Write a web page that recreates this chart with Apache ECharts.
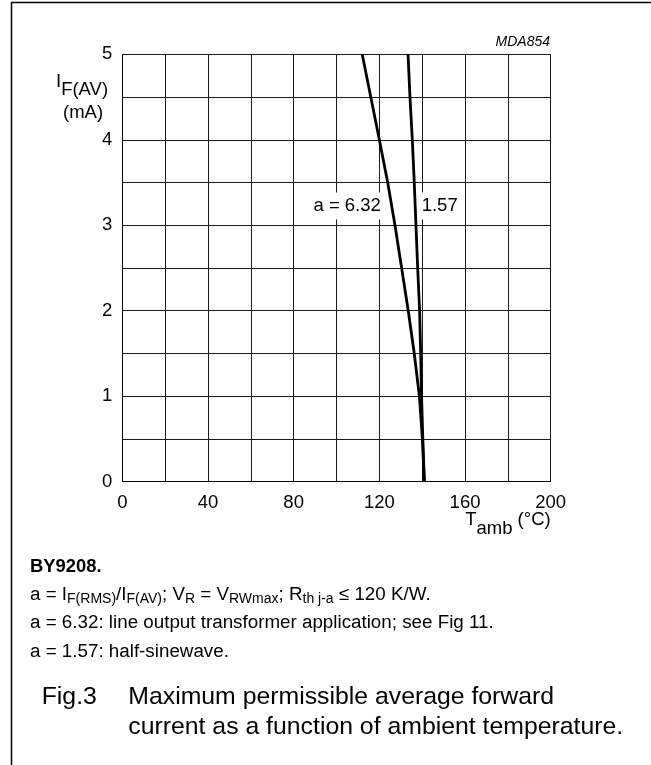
<!DOCTYPE html>
<html><head><meta charset="utf-8">
<script src="https://cdn.jsdelivr.net/npm/echarts/dist/echarts.min.js"></script>
<style>html,body{margin:0;padding:0;background:#fff}#c{width:651px;height:765px}</style>
</head><body><div id="c"></div>
<script>
// ---- data ----
const currentLevels = [0, 0.5, 1, 1.5, 2, 2.5, 3, 3.5, 4, 4.5, 5];          // I_F(AV) (mA)
const tempA632 = [141, 140.1, 138.7, 136.3, 133.5, 130.4, 127.3, 123.9, 120, 116, 112];   // a = 6.32
const tempA157 = [141, 140.3, 139.7, 139.3, 138.8, 137.9, 137.1, 136.3, 135.4, 134.3, 133.4]; // a = 1.57
const xTickLabels = [0, 40, 80, 120, 160, 200];
const yTickLabels = [0, 1, 2, 3, 4, 5];
const curveNames = ['a = 6.32', '1.57'];

const FONT = "'Liberation Sans', Arial, Helvetica, sans-serif";
const chart = echarts.init(document.getElementById('c'), null, {renderer: 'canvas'});

function pairs(temps) { return currentLevels.map((c, i) => [temps[i], c]); }

chart.setOption({
  animation: false,
  backgroundColor: '#fff',
  grid: {left: 122.3, right: 100.3, top: 54.3, bottom: 283.3},
  xAxis: {
    type: 'value', min: 0, max: 200, interval: 20,
    axisLine: {show: true, lineStyle: {color: '#000', width: 1}},
    axisTick: {show: false},
    axisLabel: {
      formatter: v => xTickLabels.indexOf(v) >= 0 ? String(v) : '',
      fontSize: 18.5, fontFamily: FONT, color: '#000', margin: 12
    },
    splitLine: {show: true, lineStyle: {color: '#1a1a1a', width: 1}}
  },
  yAxis: {
    type: 'value', min: 0, max: 5, interval: 0.5,
    axisLine: {show: true, lineStyle: {color: '#000', width: 1}},
    axisTick: {show: false},
    axisLabel: {
      formatter: v => yTickLabels.indexOf(v) >= 0 ? String(v) : '',
      fontSize: 18.5, fontFamily: FONT, color: '#000', margin: 10
    },
    splitLine: {show: true, lineStyle: {color: '#1a1a1a', width: 1}}
  },
  series: [
    {type: 'line', name: curveNames[0], data: pairs(tempA632), symbol: 'none', silent: true,
     lineStyle: {color: '#000', width: 2.8}},
    {type: 'line', name: curveNames[1], data: pairs(tempA157), symbol: 'none', silent: true,
     lineStyle: {color: '#000', width: 2.8}}
  ]
});

function text(x, y, str, size, extra) {
  return {type: 'text', x: x, y: y, z: 5, silent: true,
    style: Object.assign({text: str, fontSize: size, fontFamily: FONT, fill: '#000',
      align: 'left', textAlign: 'left', verticalAlign: 'middle', textVerticalAlign: 'middle'}, extra || {})};
}
function richText(x, y, str, mainSize, subSize, drop, extra) {
  return text(x, y, str, mainSize, Object.assign({
    rich: {
      m: {fontSize: mainSize, fontFamily: FONT, fill: '#000', verticalAlign: 'top'},
      s: {fontSize: subSize, fontFamily: FONT, fill: '#000', verticalAlign: 'bottom', padding: [drop, 0, 0, 0]}
    }
  }, extra || {}));
}

// curve label anchors in data units (T, I)
const p632 = chart.convertToPixel({gridIndex: 0}, [122.1, 3.225]);
const p157 = chart.convertToPixel({gridIndex: 0}, [139.3, 3.225]);

const graphics = [
  {type: 'polyline', silent: true, z: 5, shape: {points: [[11.5, 765], [11.5, 2.5], [651, 2.5]]},
   style: {stroke: '#000', lineWidth: 1.5, fill: null}},
  // curve labels with white boxes
  {type: 'text', x: p632[0], y: p632[1], z: 1, silent: true,
   style: {text: curveNames[0], fontSize: 18.5, fontFamily: FONT, fill: '#000', align: 'right', textAlign: 'right',
     verticalAlign: 'middle', textVerticalAlign: 'middle', backgroundColor: '#fff', padding: [5, 3, 3, 18]}},
  {type: 'text', x: p157[0], y: p157[1], z: 1, silent: true,
   style: {text: curveNames[1], fontSize: 18.5, fontFamily: FONT, fill: '#000', align: 'left', textAlign: 'left',
     verticalAlign: 'middle', textVerticalAlign: 'middle', backgroundColor: '#fff', padding: [5, 3, 3, 1]}},
  // code
  text(550, 41.7, 'MDA854', 14, {align: 'right', textAlign: 'right', fontStyle: 'italic'}),
  // y axis name
  richText(56, 86, '{m|I}{s|F(AV)}', 18.5, 18.5, 8.3),
  text(83, 113, '(mA)', 18.5, {align: 'center', textAlign: 'center'}),
  // x axis name
  richText(550.7, 524.5, '{m|T}{s|amb}{m| (°C)}', 18.5, 18.5, 9, {align: 'right', textAlign: 'right'}),
  // notes
  text(30, 567, 'BY9208.', 18.4, {fontWeight: 'bold'}),
  richText(30, 596, '{m|a = I}{s|F(RMS)}{m|/I}{s|F(AV)}{m|; V}{s|R}{m| = V}{s|RWmax}{m|; R}{s|th j-a}{m| ≤ 120 K/W.}', 18.8, 14, 6.5),
  text(30, 623.3, 'a = 6.32: line output transformer application; see Fig 11.', 18.8),
  text(30, 651.7, 'a = 1.57: half-sinewave.', 18.8),
  // caption
  text(41.7, 696.7, 'Fig.3', 24.8),
  text(128.3, 696.7, 'Maximum permissible average forward', 24.8),
  text(128.3, 726.7, 'current as a function of ambient temperature.', 24.8)
];
chart.setOption({graphic: graphics});
</script>
</body></html>
